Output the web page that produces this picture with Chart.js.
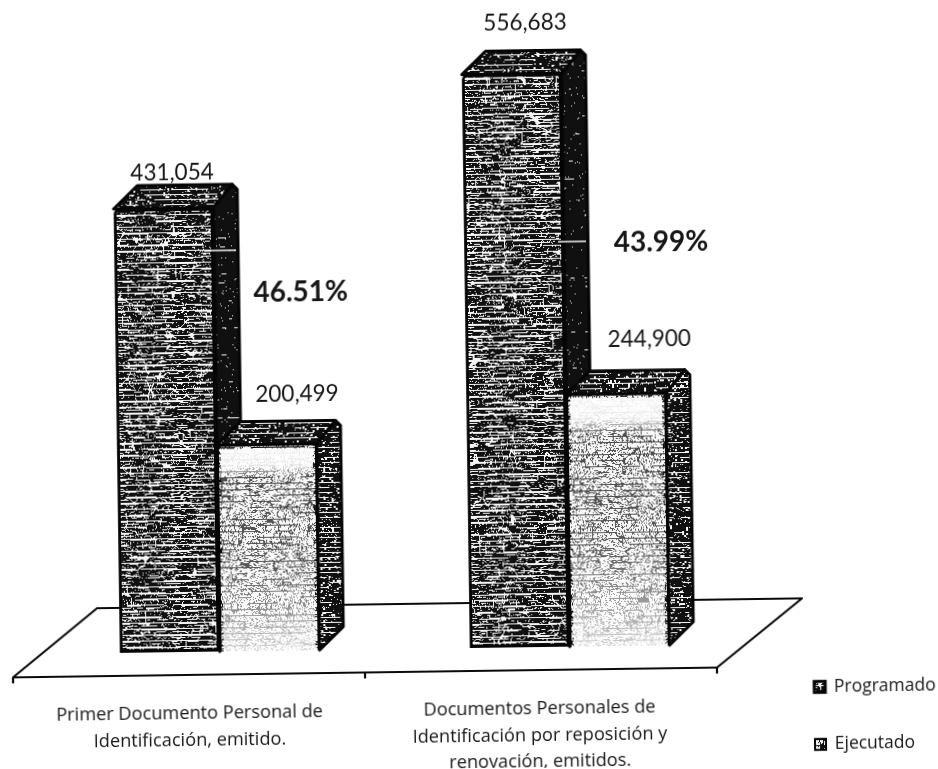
<!DOCTYPE html>
<html lang="es">
<head>
<meta charset="utf-8">
<title>Programado y Ejecutado</title>
<script src="https://cdn.jsdelivr.net/npm/chart.js@4/dist/chart.umd.min.js"></script>
<style>
html,body{margin:0;padding:0;background:#fff;overflow:hidden}
#wrap{width:938px;height:769px;transform:rotate(-0.8deg);transform-origin:469px 385px}
canvas{display:block}
</style>
</head>
<body>
<div id="wrap"><canvas id="c" width="938" height="769"></canvas></div>
<script>
// ---- data ----
const categories = [
  ["Primer Documento Personal de", "Identificación, emitido."],
  ["Documentos Personales de", "Identificación por reposición y", "renovación, emitidos."]
];
const programado = [431054, 556683];
const ejecutado = [200499, 244900];
const porcentajes = ["46.51%", "43.99%"];
const seriesNames = ["Programado", "Ejecutado"];

// ---- drawing constants ----
const DEPTH_X = 24, DEPTH_Y = 23, CORNER = 5;
const NUM_FONT = "Lato", TEXT_FONT = "'Open Sans'";
const valueOffsets = [[{dx:9,dy:-35},{dx:31,dy:-50}],[{dx:14,dy:-51},{dx:34,dy:-54}]];
const percentOffsets = [{dx:86,y:290},{dx:97,y:245}];
const leaderY = [247, 243];

// ---- scan-like textures (fixed, deterministic, only a fill style) ----
function hash(x,y,s){let h=(Math.imul(x,374761393)+Math.imul(y,668265263)+Math.imul(s,1274126177))|0;
  h=Math.imul(h^(h>>>13),1274126177);return ((h^(h>>>16))>>>0)/4294967295;}
function noise(x,y,s){const xi=Math.floor(x),yi=Math.floor(y);let fx=x-xi,fy=y-yi;
  fx=fx*fx*(3-2*fx);fy=fy*fy*(3-2*fy);
  const a=hash(xi,yi,s),b=hash(xi+1,yi,s),c=hash(xi,yi+1,s),d=hash(xi+1,yi+1,s);
  return (a*(1-fx)+b*fx)*(1-fy)+(c*(1-fx)+d*fx)*fy;}
function makeTexture(fn){
  const cv=document.createElement('canvas');cv.width=cv.height=760;
  const g=cv.getContext('2d');const im=g.createImageData(760,760);
  for(let y=0;y<760;y++)for(let x=0;x<760;x++){
    const w=fn(x,y);const v=w?245:16;const i=(y*760+x)*4;
    im.data[i]=im.data[i+1]=im.data[i+2]=v;im.data[i+3]=255;}
  g.putImageData(im,0,0);
  return g.createPattern(cv,'repeat');
}
const texFrontDark=makeTexture((x,y)=>{
  const st=y%6;
  if(st===0&&noise(x/15,y/4,1)>.3)return true;
  if(st===1&&noise(x/10,y/4,2)>.5)return true;
  if(st===3&&noise(x/5,y/4,13)>.68)return true;
  if(Math.abs(noise(x/6,y/6,3)-.5)<.028)return true;
  return hash(x,y,4)<.07;
});
const texFrontLight=makeTexture((x,y)=>{
  const st=y%6;
  if(st===0&&noise(x/14,y/4,5)>.42)return false;
  if(Math.abs(noise(x/7,y/7,6)-.5)<.03)return false;
  return hash(x,y,7)>.22;
});
const texSideDark=makeTexture((x,y)=>{
  if(y%9===0&&noise(x/7,y/5,8)>.82)return true;
  return hash(x,y,9)<.015;
});
const texSideMid=makeTexture((x,y)=>{
  if(y%5===0&&noise(x/9,y/4,10)>.45)return true;
  return hash(x,y,12)<.06||hash(x>>1,y>>1,11)<.08;
});

function poly(ctx,pts){
  ctx.beginPath();
  pts.forEach((p,i)=>i?ctx.lineTo(p[0],p[1]):ctx.moveTo(p[0],p[1]));
  ctx.closePath();
}
function drawFaces(ctx,el,isProg){
  const {x,y,base,width}=el.getProps(['x','y','base','width'],true);
  const l=x-width/2,r=x+width/2,bx=r+DEPTH_X,by=y-DEPTH_Y;
  ctx.save();ctx.lineJoin='round';ctx.strokeStyle='#050505';ctx.lineWidth=3;
  poly(ctx,[[r,y],[bx-CORNER,by],[bx,by+CORNER],[bx,base-DEPTH_Y],[r,base]]);
  ctx.fillStyle=isProg?texSideDark:texSideMid;ctx.fill();ctx.stroke();
  poly(ctx,[[l,y],[l+DEPTH_X,by],[bx-CORNER,by],[r,y]]);
  ctx.fillStyle=texSideMid;ctx.fill();ctx.stroke();
  ctx.restore();
}

// ---- 3D faces, floor and labels, all placed from the library's scales ----
const bars3d={
  id:'bars3d',
  beforeDatasetsDraw(chart){
    const {ctx,chartArea:a,scales:{y}}=chart;const b=y.getPixelForValue(0);
    const fl=a.left-32,fr=a.right-28,bl=a.left+53,br=a.right+58,fy=b+23,by=b-45;
    ctx.save();ctx.strokeStyle='#0a0a0a';ctx.lineWidth=2.2;ctx.lineJoin='round';
    ctx.beginPath();ctx.moveTo(fl,fy);ctx.lineTo(fr,fy);ctx.lineTo(br,by);ctx.lineTo(bl,by);ctx.closePath();ctx.stroke();
    ctx.beginPath();
    [fl,(fl+fr)/2,fr].forEach(px=>{ctx.moveTo(px,fy);ctx.lineTo(px,fy+6);});
    ctx.stroke();ctx.restore();
  },
  beforeDatasetDraw(chart,args){
    // the library paints dataset 1 first; it is painted after dataset 0 instead, so it overlaps it
    if(args.index===1)return false;
    const {ctx}=chart;
    chart.getDatasetMeta(0).data.forEach(el=>drawFaces(ctx,el,true));
  },
  afterDatasetDraw(chart,args){
    if(args.index!==0)return;
    const {ctx}=chart;
    chart.getDatasetMeta(1).data.forEach(el=>{
      drawFaces(ctx,el,false);
      el.draw(ctx);
      const {x,y,base,width}=el.getProps(['x','y','base','width'],true);
      const l=x-width/2;
      ctx.save();
      const g=ctx.createLinearGradient(0,y,0,base);
      g.addColorStop(0,'rgba(255,255,255,.96)');g.addColorStop(.1,'rgba(255,255,255,.9)');
      g.addColorStop(.16,'rgba(255,255,255,.25)');g.addColorStop(.6,'rgba(255,255,255,.3)');
      g.addColorStop(1,'rgba(255,255,255,.8)');
      ctx.fillStyle=g;ctx.fillRect(l+4,y+4,width-8,base-y-4);
      ctx.restore();
    });
  },
  afterDatasetsDraw(chart){
    const {ctx,scales:{x:xs,y:ys}}=chart;
    ctx.save();ctx.fillStyle='#161616';ctx.textAlign='center';ctx.textBaseline='middle';
    ctx.font='22.5px '+NUM_FONT;
    [programado,ejecutado].forEach((vals,d)=>{
      const meta=chart.getDatasetMeta(d);
      vals.forEach((v,i)=>{
        const o=valueOffsets[i][d];
        ctx.fillText(v.toLocaleString('en-US'),meta.data[i].x+o.dx,ys.getPixelForValue(v)+o.dy);
      });
    });
    ctx.font='bold 28px '+NUM_FONT;
    porcentajes.forEach((p,i)=>{
      ctx.fillText(p,xs.getPixelForValue(i)+percentOffsets[i].dx,percentOffsets[i].y);
    });
    ctx.strokeStyle='#f4f4f4';ctx.lineWidth=1.5;
    chart.getDatasetMeta(0).data.forEach((el,i)=>{
      const r=el.x+el.width/2;
      ctx.beginPath();ctx.moveTo(r-6,leaderY[i]);ctx.lineTo(r+DEPTH_X-2,leaderY[i]);ctx.stroke();
    });
    ctx.restore();
  }
};

new Chart(document.getElementById('c'),{
  type:'bar',
  data:{
    labels:categories,
    datasets:[
      {label:seriesNames[0],data:programado,backgroundColor:texFrontDark,borderColor:'#050505',borderWidth:3,borderSkipped:false,borderRadius:{topLeft:5,topRight:0,bottomLeft:0,bottomRight:0}},
      {label:seriesNames[1],data:ejecutado,backgroundColor:texFrontLight,borderColor:'#050505',borderWidth:2,borderRadius:{topLeft:5,topRight:0,bottomLeft:0,bottomRight:0}}
    ]
  },
  plugins:[bars3d],
  options:{
    responsive:false,animation:false,
    categoryPercentage:.571,barPercentage:1,
    layout:{padding:{left:41,top:30,right:0,bottom:-29}},
    scales:{
      x:{
        grid:{display:false,drawTicks:false},border:{display:false},
        afterFit(s){s.height=150;},
        ticks:{font:{family:TEXT_FONT,size:18.2,lineHeight:1.45},color:'#161616',padding:49,labelOffset:-31,maxRotation:0,minRotation:0,autoSkip:false}
      },
      y:{
        position:'right',min:0,max:600000,
        grid:{display:false},border:{display:false},
        afterFit(s){s.width=29;},
        ticks:{display:false}
      }
    },
    plugins:{
      tooltip:{enabled:false},
      legend:{
        position:'right',align:'end',maxWidth:168,
        labels:{boxWidth:11,boxHeight:11,padding:40,color:'#161616',font:{family:TEXT_FONT,size:17.5}}
      }
    }
  }
});
</script>
</body>
</html>
